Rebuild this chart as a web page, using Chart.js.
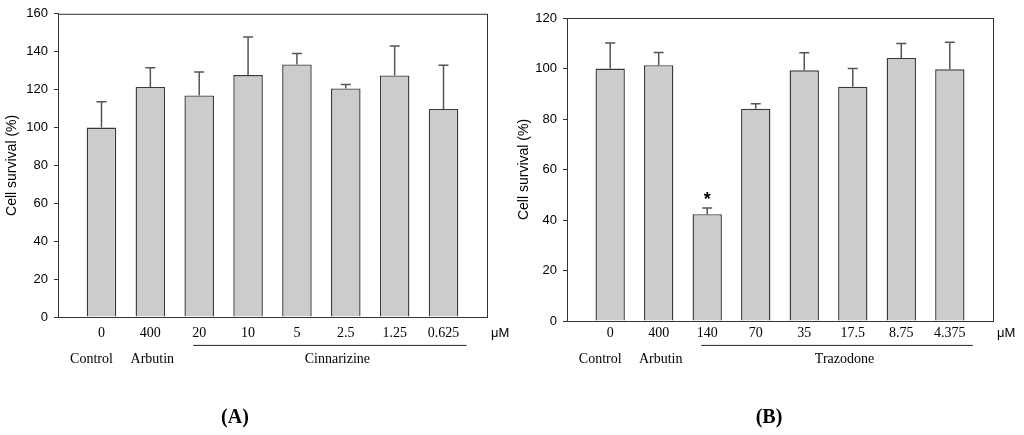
<!DOCTYPE html>
<html>
<head>
<meta charset="utf-8">
<script src="https://cdn.jsdelivr.net/npm/chart.js@4.4.1/dist/chart.umd.min.js"></script>
<style>
  body { margin: 0; background: #fff; width: 1024px; height: 435px; position: relative; overflow: hidden; }
  .panel { position: absolute; top: 0; width: 512px; height: 435px; }
  .tag { position: absolute; top: 405px; width: 60px; margin-left: -30px; text-align: center;
         font: bold 20px "Liberation Serif", "Times New Roman", serif; color: #000; }
</style>
</head>
<body>
<div class="panel" style="left:0"><canvas id="chartA" width="512" height="435"></canvas></div>
<div class="panel" style="left:512px"><canvas id="chartB" width="512" height="435"></canvas></div>
<div class="tag" style="left:235px">(A)</div>
<div class="tag" style="left:769px">(B)</div>
<script>
// PANEL A - Cinnarizine
const dosesA = ["0", "400", "20", "10", "5", "2.5", "1.25", "0.625"];
const survivalA = [100, 121.4, 116.9, 127.7, 133.3, 120.6, 127.5, 109.8];
const errA = [13.6, 10.1, 12.4, 20.0, 5.7, 2.1, 15.5, 23.1];
const starsA = ["", "", "", "", "", "", "", ""];
const groupsA = [
  { label: "Control", from: 0, to: 0 },
  { label: "Arbutin", from: 1, to: 1 },
  { label: "Cinnarizine", from: 2, to: 7, line: true }
];

// PANEL B - Trazodone
const dosesB = ["0", "400", "140", "70", "35", "17.5", "8.75", "4.375"];
const survivalB = [100, 101.3, 42.3, 84.1, 99.3, 92.8, 104.2, 99.7];
const errB = [10.1, 5.0, 2.5, 1.9, 6.9, 7.2, 5.7, 10.7];
const starsB = ["", "", "*", "", "", "", "", ""];
const groupsB = [
  { label: "Control", from: 0, to: 0 },
  { label: "Arbutin", from: 1, to: 1 },
  { label: "Trazodone", from: 2, to: 7, line: true }
];

const unitLabel = "\u03bcM";
const yTitle = "Cell survival (%)";

const SANS = '"Liberation Sans", Arial, sans-serif';
const SERIF = '"Liberation Serif", "Times New Roman", serif';
const INK = "#333";

// frame, error bars, stars, group labels
const decorPlugin = {
  id: "decor",
  afterDatasetsDraw(chart, args, opts) {
    const ctx = chart.ctx;
    const a = chart.chartArea;
    const xs = chart.scales.x, ys = chart.scales.y;
    const meta = chart.getDatasetMeta(0);

    ctx.save();
    // box around plot
    ctx.strokeStyle = INK;
    ctx.lineWidth = 1;
    ctx.strokeRect(a.left + 0.5, a.top + 0.5, a.right - a.left, a.bottom - a.top);

    // error bars (upper only)
    ctx.strokeStyle = "#555";
    ctx.lineWidth = 1.5;
    meta.data.forEach((bar, i) => {
      const yTop = ys.getPixelForValue(opts.values[i] + opts.errors[i]);
      ctx.beginPath();
      ctx.moveTo(bar.x, bar.y);
      ctx.lineTo(bar.x, yTop);
      ctx.moveTo(bar.x - 5, yTop);
      ctx.lineTo(bar.x + 5, yTop);
      ctx.stroke();

      if (opts.stars[i]) {
        ctx.fillStyle = "#000";
        ctx.font = "bold 18px " + SANS;
        ctx.textAlign = "center";
        ctx.textBaseline = "alphabetic";
        ctx.fillText(opts.stars[i], bar.x, yTop - 3);
      }
    });

    // unit + group labels under the axis
    const tickY = xs.top + opts.tickPad + 14 * 1.2 / 2;
    ctx.fillStyle = "#000";
    ctx.textBaseline = "middle";
    ctx.font = "13px " + SANS;
    ctx.textAlign = "left";
    ctx.fillText(unitLabel, a.right + 4, tickY);

    ctx.font = "14px " + SERIF;
    ctx.textAlign = "center";
    opts.groups.forEach((g, k) => {
      const x0 = xs.getPixelForValue(g.from);
      const x1 = xs.getPixelForValue(g.to);
      const mid = (x0 + x1) / 2 + opts.nudges[k];
      if (g.line) {
        ctx.strokeStyle = "#222";
        ctx.lineWidth = 1;
        ctx.beginPath();
        ctx.moveTo(x0 - 6, tickY + 12);
        ctx.lineTo(x1 + 23, tickY + 12);
        ctx.stroke();
      }
      ctx.fillText(g.label, mid, tickY + 26);
    });
    ctx.restore();
  }
};

function makeChart(id, doses, values, errors, stars, groups, yMax, area) {
  const ctx = document.getElementById(id).getContext("2d");
  return new Chart(ctx, {
    type: "bar",
    data: {
      datasets: [{
        data: values.map((v, i) => ({ x: i, y: v })),
        backgroundColor: "#cccccc",
        borderColor: "#3a3a3a",
        borderWidth: 1.4,
        borderSkipped: "bottom",
        barPercentage: 0.605,
        categoryPercentage: 1
      }]
    },
    options: {
      responsive: false,
      animation: false,
      layout: { padding: { left: 0, top: area.top, right: 512 - area.right, bottom: 0 } },
      plugins: {
        legend: { display: false },
        tooltip: { enabled: false },
        decor: { values, errors, stars, groups, tickPad: area.tickPad, nudges: [-10, 2, 16] }
      },
      scales: {
        x: {
          type: "linear",
          offset: false,
          min: -0.89,
          max: 7.89,
          afterBuildTicks: s => { s.ticks = doses.map((_, i) => ({ value: i })); },
          afterFit: s => { s.height = 435 - area.bottom; },
          grid: { display: false, drawTicks: false },
          border: { display: true, color: INK, width: 1 },
          ticks: {
            callback: v => doses[v],
            color: "#000",
            padding: area.tickPad,
            maxRotation: 0,
            autoSkip: false,
            font: { family: SERIF, size: 14 }
          }
        },
        y: {
          min: 0,
          max: yMax,
          afterFit: s => { s.width = area.left; },
          grid: { drawOnChartArea: false, drawTicks: true, tickLength: 4, color: INK },
          border: { display: true, color: INK, width: 1 },
          ticks: { stepSize: 20, color: "#000", padding: 6, font: { family: SANS, size: 13 } },
          title: {
            display: true,
            text: yTitle,
            color: "#000",
            padding: { top: 4, bottom: 0 },
            font: { family: SANS, size: 14 }
          }
        }
      }
    },
    plugins: [decorPlugin]
  });
}

makeChart("chartA", dosesA, survivalA, errA, starsA, groupsA, 160,
  { left: 58, top: 10, right: 487, bottom: 317, tickPad: 8 });
makeChart("chartB", dosesB, survivalB, errB, starsB, groupsB, 120,
  { left: 55, top: 18, right: 481, bottom: 321, tickPad: 4 });
</script>
</body>
</html>
